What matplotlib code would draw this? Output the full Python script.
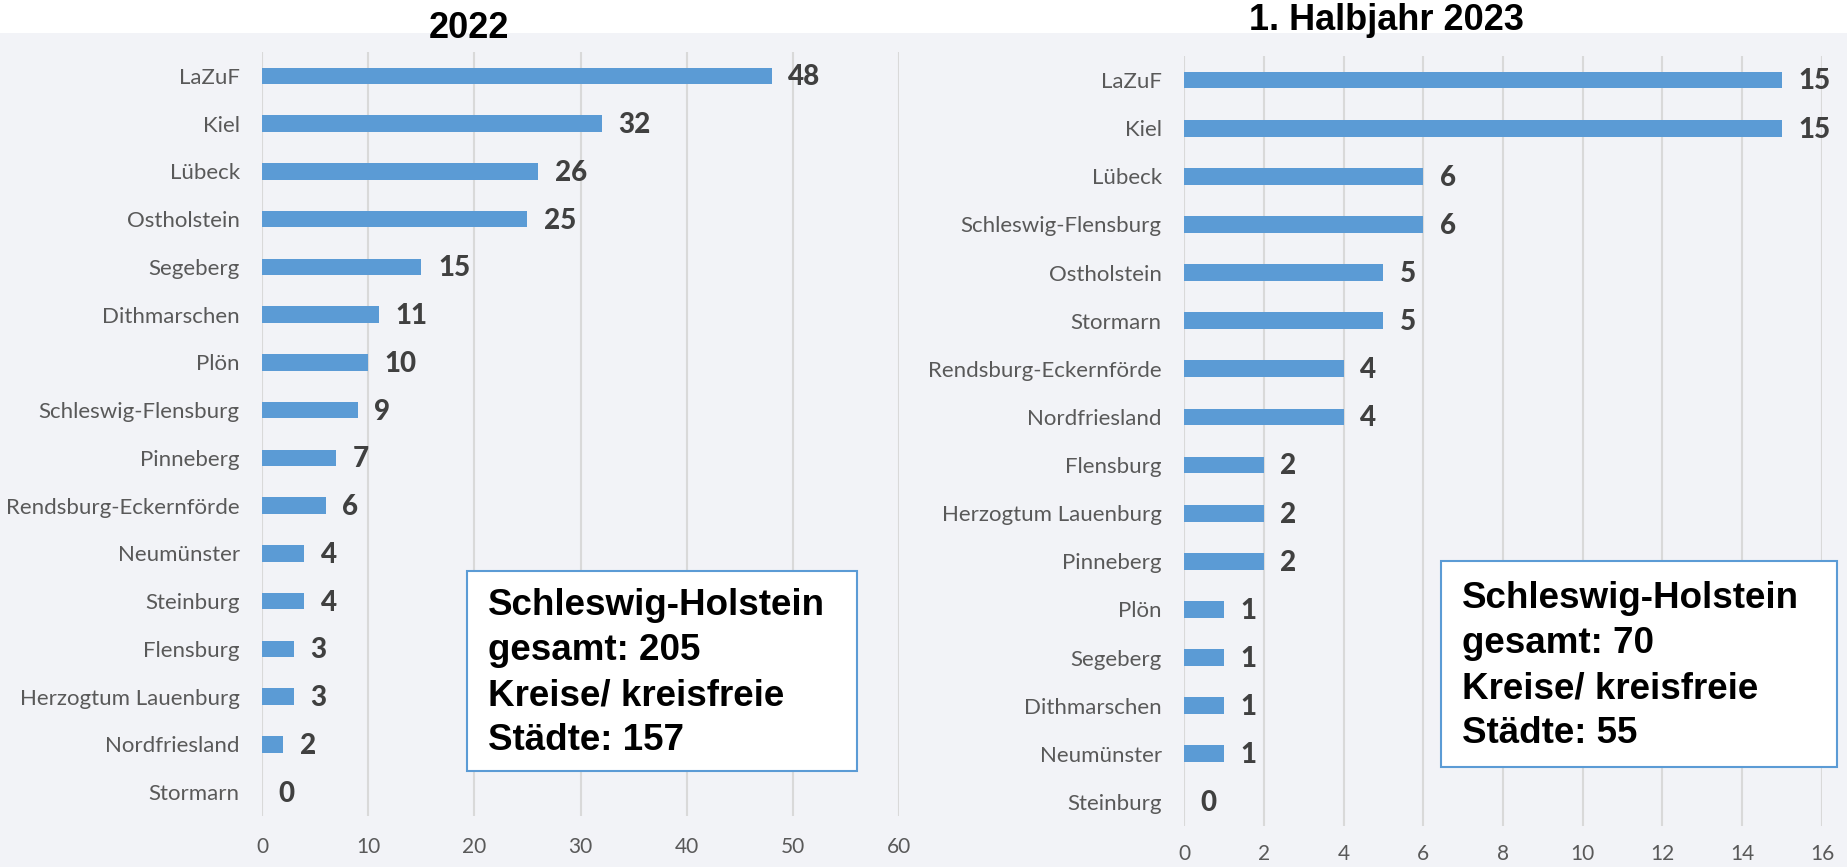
import matplotlib.pyplot as plt
from matplotlib.patches import Rectangle

# -----------------------------
# Data
# -----------------------------
cats_2022 = ["LaZuF", "Kiel", "Lübeck", "Ostholstein", "Segeberg", "Dithmarschen",
             "Plön", "Schleswig-Flensburg", "Pinneberg", "Rendsburg-Eckernförde",
             "Neumünster", "Steinburg", "Flensburg", "Herzogtum Lauenburg",
             "Nordfriesland", "Stormarn"]
vals_2022 = [48, 32, 26, 25, 15, 11, 10, 9, 7, 6, 4, 4, 3, 3, 2, 0]

cats_2023 = ["LaZuF", "Kiel", "Lübeck", "Schleswig-Flensburg", "Ostholstein", "Stormarn",
             "Rendsburg-Eckernförde", "Nordfriesland", "Flensburg", "Herzogtum Lauenburg",
             "Pinneberg", "Plön", "Segeberg", "Dithmarschen", "Neumünster", "Steinburg"]
vals_2023 = [15, 15, 6, 6, 5, 5, 4, 4, 2, 2, 2, 1, 1, 1, 1, 0]

titles = ["2022", "1. Halbjahr 2023"]
box_texts = ["Schleswig-Holstein\ngesamt: 205\nKreise/ kreisfreie\nStädte: 157",
             "Schleswig-Holstein\ngesamt: 70\nKreise/ kreisfreie\nStädte: 55"]
xticks = [list(range(0, 61, 10)), list(range(0, 17, 2))]

# -----------------------------
# Style
# -----------------------------
BG = "#F2F3F7"
BAR = "#5B9BD5"
GRID = "#D9D9D9"
LABEL = "#595959"
VALUE = "#404040"
W, H = 1847, 867

fig = plt.figure(figsize=(W / 100, H / 100), dpi=100, facecolor=BG)
# white band on top
fig.patches.append(Rectangle((0, 1 - 33 / H), 1, 33 / H, transform=fig.transFigure,
                             facecolor="white", edgecolor="none", zorder=0))


def px_rect(x0, x1, top, bottom):
    return [x0 / W, 1 - bottom / H, (x1 - x0) / W, (bottom - top) / H]


def draw_panel(rect, cats, vals, ticks, xmax, tick_pad):
    ax = fig.add_axes(rect)
    ax.set_facecolor("none")
    y = list(range(len(cats)))
    ax.barh(y, vals, height=0.35, color=BAR, linewidth=0, zorder=3)
    ax.set_ylim(len(cats) - 0.5, -0.5)
    ax.set_xlim(0, xmax)
    ax.set_yticks(y)
    ax.set_yticklabels(cats, family="Lato", fontsize=16, color=LABEL)
    ax.set_xticks(ticks)
    ax.set_xticklabels([str(t) for t in ticks], family="Lato", fontsize=15, color=LABEL)
    ax.tick_params(axis="y", length=0, pad=16)
    ax.tick_params(axis="x", length=0, pad=tick_pad)
    ax.grid(axis="x", color=GRID, linewidth=1.5, zorder=0)
    for s in ax.spines.values():
        s.set_visible(False)
    for yi, v in zip(y, vals):
        ax.annotate(str(v), (v, yi), xytext=(12, -1), textcoords="offset points",
                    va="center", ha="left", family="Lato", fontweight="black",
                    fontsize=20, color=VALUE)
    return ax


ax1 = draw_panel(px_rect(262, 899, 52, 816), cats_2022, vals_2022, xticks[0], 60, 15)
ax2 = draw_panel(px_rect(1184, 1822, 56, 826), cats_2023, vals_2023, xticks[1], 16, 13)

# titles
fig.text(469 / W, 1 - 38 / H, titles[0], ha="center", va="baseline",
         family="Liberation Sans", fontweight="bold", fontsize=26)
fig.text(1386 / W, 1 - 30 / H, titles[1], ha="center", va="baseline",
         family="Liberation Sans", fontweight="bold", fontsize=26)

# summary boxes
for (x0, x1, top, bottom), txt in zip([(467, 857, 571, 771), (1441, 1837, 561, 767)], box_texts):
    fig.patches.append(Rectangle((x0 / W, 1 - bottom / H), (x1 - x0) / W, (bottom - top) / H,
                                 transform=fig.transFigure, facecolor="white",
                                 edgecolor=BAR, linewidth=1.5, zorder=5))
    fig.text((x0 + 21) / W, 1 - (top + (bottom - top) / 2 + 2) / H, txt, ha="left", va="center",
             family="Liberation Sans", fontweight="bold", fontsize=26.5,
             linespacing=1.38, zorder=6)

fig.savefig("out.png", dpi=100, facecolor=BG)
